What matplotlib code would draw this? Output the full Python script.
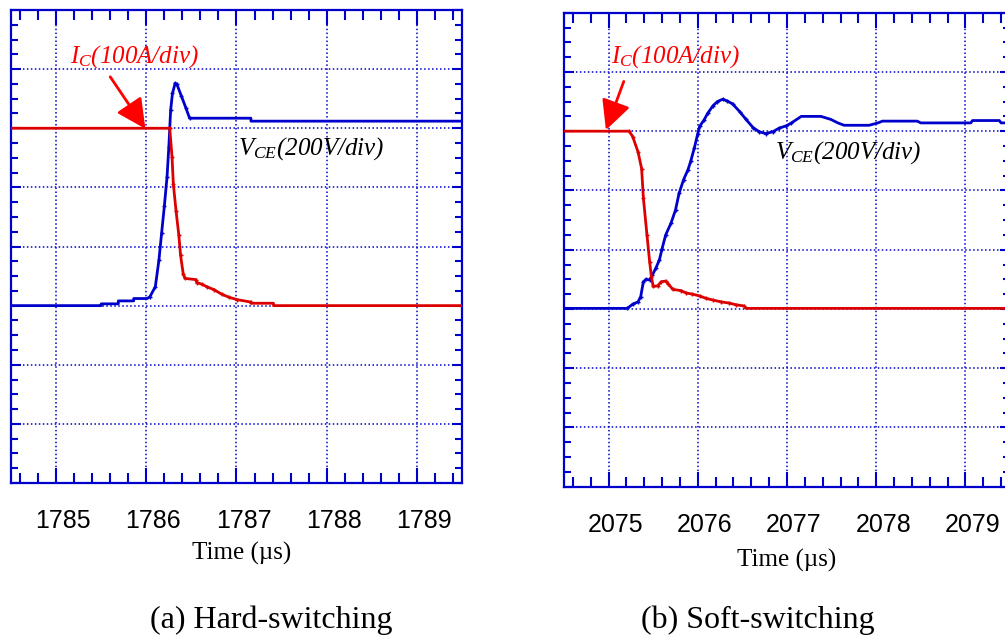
import matplotlib
matplotlib.use("Agg")
import matplotlib.pyplot as plt
from matplotlib.ticker import MultipleLocator, AutoMinorLocator
from matplotlib.transforms import ScaledTranslation

plt.rcParams["font.family"] = ["Liberation Sans", "DejaVu Sans"]
plt.rcParams["mathtext.fontset"] = "custom"
plt.rcParams["mathtext.it"] = "Liberation Serif:italic"
plt.rcParams["mathtext.rm"] = "Liberation Serif:italic"
plt.rcParams["mathtext.bf"] = "Liberation Serif:bold"

# ---- waveforms, vertical unit = screen division (0..8) ----
# (a) hard switching
hard_t_vce = [1784.50, 1785.50, 1785.50, 1785.69, 1785.69, 1785.86, 1785.86, 1786.01,
              1786.04, 1786.10, 1786.14, 1786.17, 1786.20, 1786.23, 1786.25, 1786.27,
              1786.29, 1786.32, 1786.34, 1786.39, 1786.44, 1786.48, 1787.16, 1787.16,
              1789.50]
hard_vce = [3.00, 3.00, 3.03, 3.03, 3.08, 3.08, 3.12, 3.12,
            3.15, 3.32, 3.77, 4.23, 4.68, 5.18, 5.69, 6.31,
            6.59, 6.76, 6.74, 6.54, 6.34, 6.17, 6.17, 6.12,
            6.12]

hard_t_ic = [1784.50, 1786.26, 1786.285, 1786.30, 1786.33, 1786.36, 1786.38, 1786.41,
             1786.43, 1786.55, 1786.56, 1786.62, 1786.67, 1786.75, 1786.84, 1786.92,
             1787.01, 1787.16, 1787.16, 1787.41, 1787.41, 1789.50]
hard_ic = [6.00, 6.00, 5.52, 5.05, 4.60, 4.20, 3.85, 3.53,
           3.46, 3.44, 3.39, 3.36, 3.32, 3.27, 3.19, 3.14,
           3.10, 3.06, 3.04, 3.04, 3.00, 3.00]

# (b) soft switching
soft_t_vce = [2074.50, 2075.21, 2075.27, 2075.33, 2075.36, 2075.39, 2075.42, 2075.46,
              2075.49, 2075.53, 2075.57, 2075.60, 2075.64, 2075.70, 2075.75, 2075.79,
              2075.84, 2075.89, 2075.92, 2075.96, 2076.00, 2076.02, 2076.07, 2076.11,
              2076.17, 2076.22, 2076.28, 2076.33, 2076.39, 2076.47, 2076.54, 2076.62,
              2076.69, 2076.76, 2076.84, 2076.91, 2076.99, 2077.04, 2077.16, 2077.38,
              2077.49, 2077.57, 2077.64, 2077.92, 2078.02, 2078.07, 2078.46, 2078.50,
              2079.06, 2079.08, 2079.38, 2079.40, 2079.50]
soft_vce = [3.01, 3.01, 3.08, 3.12, 3.21, 3.46, 3.50, 3.49,
            3.57, 3.69, 3.83, 4.02, 4.25, 4.45, 4.67, 4.95,
            5.18, 5.35, 5.49, 5.71, 5.96, 6.08, 6.19, 6.30,
            6.43, 6.50, 6.54, 6.51, 6.46, 6.33, 6.20, 6.06,
            5.99, 5.96, 5.99, 6.05, 6.09, 6.13, 6.25, 6.25,
            6.20, 6.14, 6.10, 6.10, 6.14, 6.17, 6.17, 6.14,
            6.14, 6.18, 6.18, 6.14, 6.14]

soft_t_ic = [2074.50, 2075.23, 2075.27, 2075.33, 2075.37, 2075.39, 2075.43, 2075.46,
             2075.48, 2075.50, 2075.55, 2075.59, 2075.64, 2075.67, 2075.72, 2075.81,
             2075.87, 2075.94, 2076.02, 2076.09, 2076.17, 2076.26, 2076.35, 2076.43,
             2076.52, 2076.54, 2079.50]
soft_ic = [6.00, 6.00, 5.91, 5.65, 5.37, 4.87, 4.25, 3.80,
           3.54, 3.38, 3.39, 3.46, 3.47, 3.42, 3.33, 3.31,
           3.27, 3.25, 3.22, 3.18, 3.15, 3.12, 3.10, 3.07,
           3.05, 3.01, 3.01]

hard_ticks = [1785, 1786, 1787, 1788, 1789]
soft_ticks = [2075, 2076, 2077, 2078, 2079]

BLUE = "#0000CC"
RED_LINE = "#DD0000"
RED_TEXT = "#FF0000"

fig = plt.figure(figsize=(10.05, 6.39), dpi=100)
W, H = 1005.0, 639.0

ax_a = fig.add_axes([11 / W, 1 - 483 / H, 451 / W, 473 / H])
ax_b = fig.add_axes([564 / W, 1 - 486.7 / H, 446 / W, 474 / H])


def style_scope(ax, ticks):
    ax.set_xlim(ticks[0] - 0.5, ticks[-1] + 0.5)
    ax.set_ylim(0, 8)
    ax.set_xticks(ticks)
    ax.set_xticklabels([str(t) for t in ticks])
    ax.xaxis.set_minor_locator(AutoMinorLocator(5))
    ax.yaxis.set_major_locator(MultipleLocator(1))
    ax.yaxis.set_minor_locator(AutoMinorLocator(4))
    ax.set_yticklabels([])
    for sp in ax.spines.values():
        sp.set_color(BLUE)
        sp.set_linewidth(1.6)
    ax.tick_params(axis="both", which="both", direction="in", color=BLUE,
                   width=1.5, top=True, right=True)
    ax.tick_params(axis="x", which="major", length=11, pad=19, labelsize=18)
    ax.tick_params(axis="x", which="minor", length=7)
    ax.tick_params(axis="y", which="major", length=7.5)
    ax.tick_params(axis="y", which="minor", length=5)
    ax.grid(True, which="major", color=BLUE, linestyle=(0, (1, 1.6)), linewidth=1.1)
    ax.set_axisbelow(True)
    shift = ScaledTranslation(0.07, 0, fig.dpi_scale_trans)
    for tk in ax.xaxis.get_major_ticks():
        tk.label1.set_transform(tk.label1.get_transform() + shift)
    ax.set_xlabel("Time (\u00b5s)", family="Liberation Serif", fontsize=18)


style_scope(ax_a, hard_ticks)
style_scope(ax_b, soft_ticks)
ax_a.xaxis.set_label_coords(0.511, -0.125)
ax_b.xaxis.set_label_coords(0.499, -0.132)

mk = dict(marker="+", markersize=3.5, markeredgewidth=1.0)
ax_a.plot(hard_t_vce, hard_vce, color=BLUE, lw=2, zorder=3)
ax_a.plot(hard_t_vce[8:22], hard_vce[8:22], ls="none", color=BLUE, zorder=3, **mk)
ax_a.plot(hard_t_ic, hard_ic, color=RED_LINE, lw=2, zorder=4)
ax_a.plot(hard_t_ic[1:18], hard_ic[1:18], ls="none", color=RED_LINE, zorder=4, **mk)

ax_b.plot(soft_t_vce, soft_vce, color=BLUE, lw=2, zorder=3)
ax_b.plot(soft_t_vce[1:38], soft_vce[1:38], ls="none", color=BLUE, zorder=3, **mk)
ax_b.plot(soft_t_ic, soft_ic, color=RED_LINE, lw=2, zorder=4)
ax_b.plot(soft_t_ic[1:25], soft_ic[1:25], ls="none", color=RED_LINE, zorder=4, **mk)

arrow = dict(arrowstyle="-|>,head_length=1.0,head_width=0.5", color=RED_TEXT,
             lw=2, mutation_scale=18, shrinkA=0, shrinkB=0)

# current / voltage labels
ax_a.text(1785.156, 7.11, r"$I_C(100A/div)$", color=RED_TEXT,
          fontsize=18, ha="left", va="baseline", zorder=5)
ax_a.annotate("", xy=(1785.99, 5.99), xytext=(1785.60, 6.87), arrowprops=arrow, zorder=6)
ax_a.text(1787.02, 5.55, r"$V_{CE}(200V/div)$", color="black",
          fontsize=18, ha="left", va="baseline", zorder=5)

ax_b.text(2075.03, 7.15, r"$I_C(100A/div)$", color=RED_TEXT,
          fontsize=18, ha="left", va="baseline", zorder=5)
ax_b.annotate("", xy=(2074.97, 6.02), xytext=(2075.17, 6.84), arrowprops=arrow, zorder=6)
ax_b.text(2076.86, 5.53, r"$V_{CE}(200V/div)$", color="black",
          fontsize=18, ha="left", va="baseline", zorder=5)

fig.text(271.5 / W, 1 - 620 / H, "(a) Hard-switching", family="Liberation Serif",
         fontsize=23, ha="center", va="center")
fig.text(757.5 / W, 1 - 620 / H, "(b) Soft-switching", family="Liberation Serif",
         fontsize=23, ha="center", va="center")

fig.savefig("out.png", dpi=100)
